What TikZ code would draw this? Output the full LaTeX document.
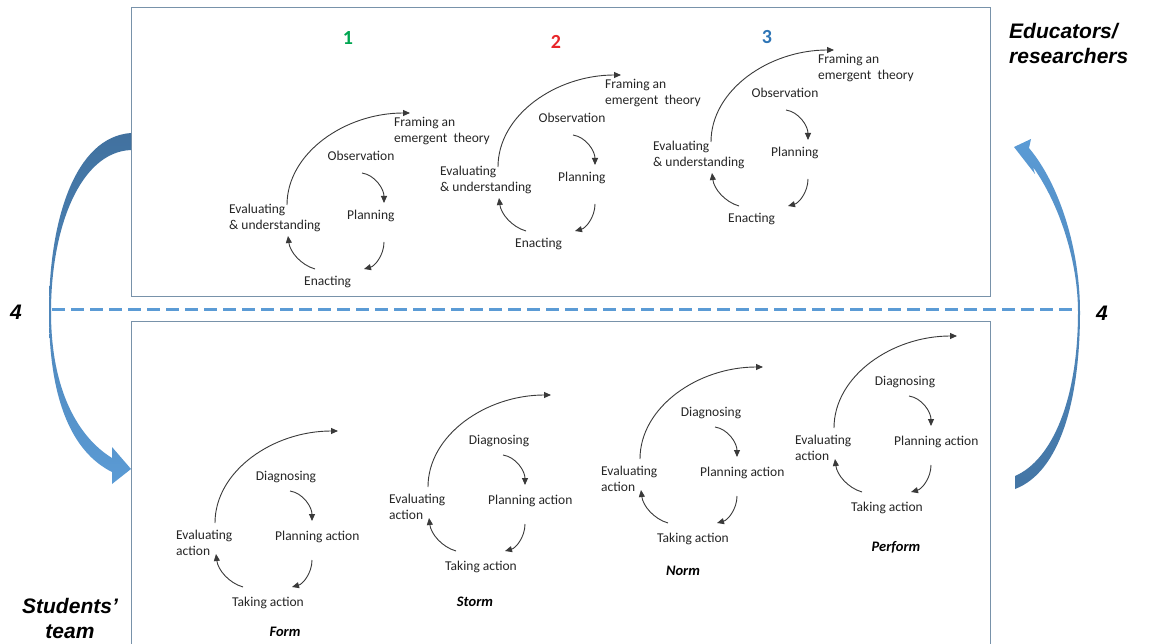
\documentclass[tikz,border=0pt]{standalone}
\usepackage{fontspec}
\setmainfont{Carlito}
\newfontfamily\arialf{Liberation Sans}
\usetikzlibrary{arrows.meta}
\definecolor{linegray}{HTML}{3A3A3A}
\definecolor{boxblue}{HTML}{7892AA}
\definecolor{dashblue}{HTML}{5B9BD5}
\definecolor{darkarrow}{HTML}{41719F}
\definecolor{numgreen}{HTML}{00A651}
\definecolor{numred}{HTML}{E8262A}
\definecolor{numblue}{HTML}{2E75B6}
\tikzset{
  cyc/.style={font=\fontsize{13.5}{16}\selectfont, inner sep=0pt, text=black!85},
  arc/.style={draw=linegray, line width=0.9pt, -{Triangle[length=7pt,width=6pt]}},
  phase/.style={font=\fontsize{14.5}{17}\selectfont\bfseries\itshape, inner sep=0pt},
  side/.style={font=\arialf\fontsize{21}{25}\selectfont\bfseries\itshape, inner sep=0pt, align=center},
  num/.style={font=\fontsize{20}{24}\selectfont\bfseries, inner sep=0pt},
  box/.style={draw=boxblue, line width=1pt},
  arcs/.pic={
    \coordinate (-b0) at (0,0);   \coordinate (-b1) at (123,-92);
    \coordinate (-s0) at (75,-32); \coordinate (-s1) at (97,-2);
    \coordinate (-p0) at (97,37);  \coordinate (-p1) at (77,64);
    \coordinate (-e0) at (28,64);  \coordinate (-e1) at (1,31);
    \draw[arc] (-b0) .. controls +(0,-52) and +(-65,0) .. (-b1);
    \draw[arc] (-s0) .. controls +(13,2) and +(0,-14) .. (-s1);
    \draw[arc] (-p0) .. controls +(0,13) and +(11,-3) .. (-p1);
    \draw[arc] (-e0) .. controls +(-14,-4) and +(2,16) .. (-e1);
  },
  topcycle/.pic={
    \pic (-g) {arcs};
    \node[cyc,anchor=west,align=left] (-fr) at (107,-74) {Framing an\\emergent\ \ theory};
    \node[cyc] (-ob) at (74,-49) {Observation};
    \node[cyc,anchor=west] (-pl) at (60,11) {Planning};
    \node[cyc,anchor=west] (-en) at (17,77) {Enacting};
    \node[cyc,anchor=west,align=left] (-ev) at (-58,13) {Evaluating\\\& understanding};
  },
  botcycle/.pic={
    \pic (-g) {arcs};
    \node[cyc] (-dg) at (71,-46) {Diagnosing};
    \node[cyc,anchor=west] (-pl) at (60,14) {Planning action};
    \node[cyc,anchor=west] (-ta) at (17,80) {Taking action};
    \node[cyc,anchor=west,align=left] (-ev) at (-39,20) {Evaluating\\action};
  }
}
\begin{document}
\begin{tikzpicture}[x=1pt,y=-1pt]
\useasboundingbox (0,0) rectangle (1149,644);
\fill[white] (0,0) rectangle (1149,644);

% boxes
\draw[box] (131,8) rectangle (990,297);
\draw[box] (131,644) -- (131,322) -- (990,322) -- (990,644);

% dashed divider
\coordinate (dl) at (52,310);
\coordinate (dr) at (1080,310);
\draw[dashblue, line width=3pt, dash pattern=on 13pt off 6pt] (dl) -- (dr);

% left big arrow
\shade[top color=darkarrow, bottom color=dashblue, draw=none]
  (131,133) .. controls (75,137) and (49,220) .. (49,312)
  .. controls (49,400) and (72,452) .. (112,472)
  -- (112,484) -- (131,469) -- (112,447) -- (112,458)
  .. controls (78,437) and (51,390) .. (51,312)
  .. controls (51,228) and (80,152) .. (131,150) -- cycle;

% right big arrow
\shade[top color=dashblue, bottom color=darkarrow!90!dashblue, draw=none]
  (1015,476) .. controls (1052,460) and (1078,400) .. (1078,312)
  .. controls (1078,262) and (1060,205) .. (1033,167)
  -- (1035,174) -- (1014,147) -- (1031,139) -- (1029,148)
  .. controls (1060,185) and (1080,250) .. (1080,312)
  .. controls (1080,400) and (1060,472) .. (1015,489) -- cycle;

% labels
\node[side] (four-l) at (16,312) {4};
\node[side] (four-r) at (1102,313) {4};
\node[side, align=left, anchor=west] (edu) at (1009,43) {Educators/\\researchers};
\node[side] (stu) at (70,618) {Students’\\team};

% numbers
\node[num, text=numgreen] (n1) at (348,38) {1};
\node[num, text=numred] (n2) at (556,42) {2};
\node[num, text=numblue] (n3) at (767,37) {3};

% top cycles
\pic (t1) at (287,205) {topcycle};
\pic (t2) at (498,167) {topcycle};
\pic (t3) at (711,142) {topcycle};

% bottom cycles
\pic (b1) at (215,523) {botcycle};
\pic (b2) at (428,487) {botcycle};
\pic (b3) at (640,459) {botcycle};
\pic (b4) at (834,428) {botcycle};

\node[phase] (form) at (285,632) {Form};
\node[phase] (storm) at (475,602) {Storm};
\node[phase] (norm) at (683,571) {Norm};
\node[phase] (perform) at (896,547) {Perform};
\end{tikzpicture}
\end{document}
